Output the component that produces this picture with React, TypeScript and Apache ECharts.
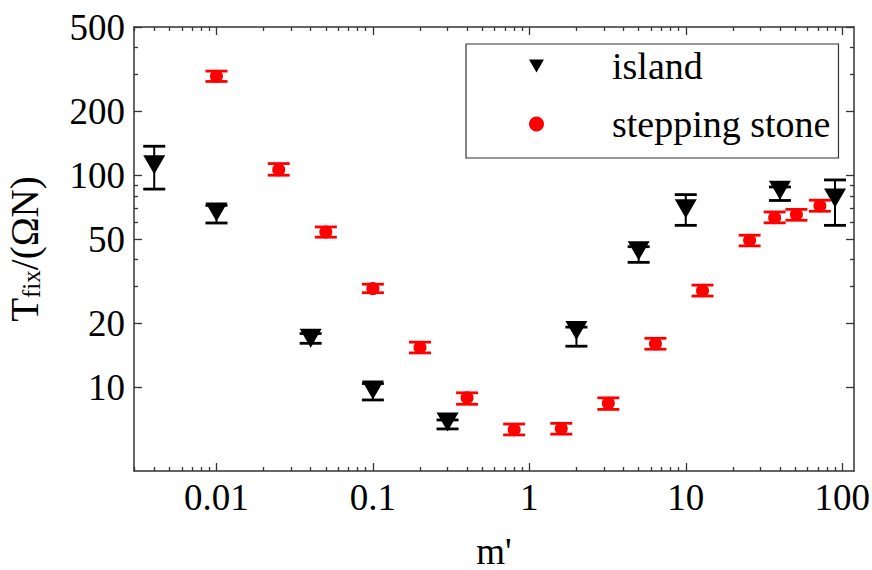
import React, { useEffect, useRef } from "react";
import * as echarts from "echarts";

// ---- data ----
const islandX = [0.004, 0.01, 0.04, 0.1, 0.3, 2, 5, 10, 40, 90];
const islandY = [112, 67, 17, 9.7, 6.85, 18.5, 44, 69.5, 85, 78];
const islandLow = [86, 59.5, 16.1, 8.7, 6.35, 15.6, 38.8, 58, 76, 58];
const islandHigh = [137, 72, 17.9, 10.4, 7.0, 19.2, 46, 81, 88, 95];

const stoneX = [0.01, 0.025, 0.05, 0.1, 0.2, 0.4, 0.8, 1.6, 3.2, 6.4, 12.8, 25.6, 37, 51, 72];
const stoneY = [293, 106, 54, 29.2, 15.4, 8.9, 6.3, 6.38, 8.4, 16, 28.5, 49.3, 63, 65.3, 71.7];
const stoneLow = [277, 100, 51, 27.9, 14.5, 8.3, 5.95, 6.0, 7.85, 15.1, 26.9, 46.4, 59.6, 61.3, 67.6];
const stoneHigh = [310, 113.5, 57, 30.6, 16.3, 9.4, 6.7, 6.75, 8.9, 17, 30.3, 52.1, 67.1, 69, 76.2];

const xMajorTicks = [0.01, 0.1, 1, 10, 100];
const xMinorTicks = [
  0.003, 0.004, 0.005, 0.006, 0.007, 0.008, 0.009,
  0.02, 0.03, 0.04, 0.05, 0.06, 0.07, 0.08, 0.09,
  0.2, 0.3, 0.4, 0.5, 0.6, 0.7, 0.8, 0.9,
  2, 3, 4, 5, 6, 7, 8, 9,
  20, 30, 40, 50, 60, 70, 80, 90,
];
const yMajorTicks = [10, 20, 50, 100, 200, 500];
const yMinorTicks = [30, 40, 60, 70, 80, 90, 300, 400];

const X_MIN = 0.00297;
const X_MAX = 119;
const Y_MIN = 4.02;
const Y_MAX = 500.5;

const FONT = "Times New Roman, Liberation Serif, DejaVu Serif, serif";
const AXIS_COLOR = "#333";
const TRI = "path://M0 0L22 0L11 19Z";

function fmt(v: number) {
  return String(parseFloat(Number(v).toPrecision(6)));
}

function xAxisDef(pos: "bottom" | "top", major: boolean, main: boolean) {
  return {
    type: "log",
    min: X_MIN,
    max: X_MAX,
    position: pos,
    gridIndex: 0,
    axisLine: { show: major, lineStyle: { color: AXIS_COLOR, width: 1.5 } },
    axisTick: {
      show: true,
      inside: true,
      length: major ? 8 : 4,
      lineStyle: { color: AXIS_COLOR, width: 1.3 },
      customValues: major ? xMajorTicks : xMinorTicks,
    },
    axisLabel: main
      ? {
          show: true,
          customValues: xMajorTicks,
          formatter: (v: number) => fmt(v),
          fontSize: 37,
          fontFamily: FONT,
          color: "#000",
          margin: 8,
        }
      : { show: false },
    splitLine: { show: false },
    minorTick: { show: false },
    minorSplitLine: { show: false },
    ...(main
      ? {
          name: "m'",
          nameLocation: "middle",
          nameGap: 62,
          nameTextStyle: { fontSize: 37, lineHeight: 36, fontFamily: FONT, color: "#000" },
        }
      : {}),
  };
}

function yAxisDef(pos: "left" | "right", major: boolean, main: boolean) {
  return {
    type: "log",
    min: Y_MIN,
    max: Y_MAX,
    position: pos,
    gridIndex: 0,
    axisLine: { show: major, lineStyle: { color: AXIS_COLOR, width: 1.5 } },
    axisTick: {
      show: true,
      inside: true,
      length: major ? 8 : 4,
      lineStyle: { color: AXIS_COLOR, width: 1.3 },
      customValues: major ? yMajorTicks : yMinorTicks,
    },
    axisLabel: main
      ? {
          show: true,
          customValues: yMajorTicks,
          formatter: (v: number) => fmt(v),
          fontSize: 37,
          fontFamily: FONT,
          color: "#000",
          margin: 9,
        }
      : { show: false },
    splitLine: { show: false },
    minorTick: { show: false },
    minorSplitLine: { show: false },
    ...(main
      ? {
          name: "T{s|fix}/(ΩN)",
          nameLocation: "middle",
          nameGap: 90,
          nameTextStyle: {
            fontSize: 39,
            fontFamily: FONT,
            color: "#000",
            rich: {
              s: {
                fontSize: 25,
                fontFamily: FONT,
                color: "#000",
                verticalAlign: "bottom",
                lineHeight: 25,
              },
            },
          },
        }
      : {}),
  };
}

function errorSeries(name: string, xs: number[], lo: number[], hi: number[], color: string, z: number) {
  return {
    type: "custom",
    name,
    xAxisIndex: 0,
    yAxisIndex: 0,
    z,
    silent: true,
    encode: { x: 0, y: [1, 2] },
    data: xs.map((x, i) => [x, lo[i], hi[i]]),
    renderItem: (params: any, api: any) => {
      const x = api.value(0);
      const pLo = api.coord([x, api.value(1)]);
      const pHi = api.coord([x, api.value(2)]);
      const hw = 11;
      const capStyle = { stroke: color, lineWidth: 2.8 };
      return {
        type: "group",
        children: [
          { type: "line", shape: { x1: pLo[0], y1: pLo[1], x2: pHi[0], y2: pHi[1] }, style: { stroke: color, lineWidth: 2 } },
          { type: "line", shape: { x1: pLo[0] - hw, y1: pLo[1], x2: pLo[0] + hw, y2: pLo[1] }, style: capStyle },
          { type: "line", shape: { x1: pHi[0] - hw, y1: pHi[1], x2: pHi[0] + hw, y2: pHi[1] }, style: capStyle },
        ],
      };
    },
  };
}

export default function App() {
  const ref = useRef<HTMLDivElement>(null);
  useEffect(() => {
    if (!ref.current) return;
    const chart = echarts.init(ref.current, null, { renderer: "svg" });
    const option: any = {
      animation: false,
      backgroundColor: "#fff",
      textStyle: { fontFamily: FONT },
      grid: { left: 134, right: 18, top: 27, bottom: 99, containLabel: false, outerBoundsMode: "none" },
      xAxis: [
        xAxisDef("bottom", true, true),
        xAxisDef("bottom", false, false),
        xAxisDef("top", true, false),
        xAxisDef("top", false, false),
      ],
      yAxis: [
        yAxisDef("left", true, true),
        yAxisDef("left", false, false),
        yAxisDef("right", true, false),
        yAxisDef("right", false, false),
      ],
      legend: {
        orient: "vertical",
        left: 466,
        top: 44,
        padding: [3, 8, 15, 63],
        itemWidth: 15,
        itemHeight: 15,
        itemGap: 20,
        borderColor: "#333",
        borderWidth: 1.2,
        formatter: (name: string) => `{t|${name}}`,
        textStyle: {
          fontSize: 38,
          fontFamily: FONT,
          color: "#000",
          rich: {
            t: { fontSize: 38, fontFamily: FONT, color: "#000", padding: [0, 0, 0, 63] },
          },
        },
        data: [
          { name: "island", icon: TRI },
          { name: "stepping stone", icon: "circle" },
        ],
      },
      series: [
        errorSeries("island err", islandX, islandLow, islandHigh, "#000", 3),
        errorSeries("stone err", stoneX, stoneLow, stoneHigh, "#ff0000", 3),
        {
          type: "scatter",
          name: "island",
          xAxisIndex: 0,
          yAxisIndex: 0,
          symbol: TRI,
          symbolSize: [22, 19],
          itemStyle: { color: "#000", opacity: 1 },
          data: islandX.map((x, i) => [x, islandY[i]]),
          z: 2,
        },
        {
          type: "scatter",
          name: "stepping stone",
          xAxisIndex: 0,
          yAxisIndex: 0,
          symbol: "circle",
          symbolSize: 13,
          itemStyle: { color: "#ff0000", opacity: 1 },
          data: stoneX.map((x, i) => [x, stoneY[i]]),
          z: 2,
        },
      ],
    };
    chart.setOption(option);
    return () => chart.dispose();
  }, []);
  return (
    <div
      ref={ref}
      style={{ position: "fixed", left: 0, top: 0, width: 872, height: 570, background: "#fff" }}
    />
  );
}
